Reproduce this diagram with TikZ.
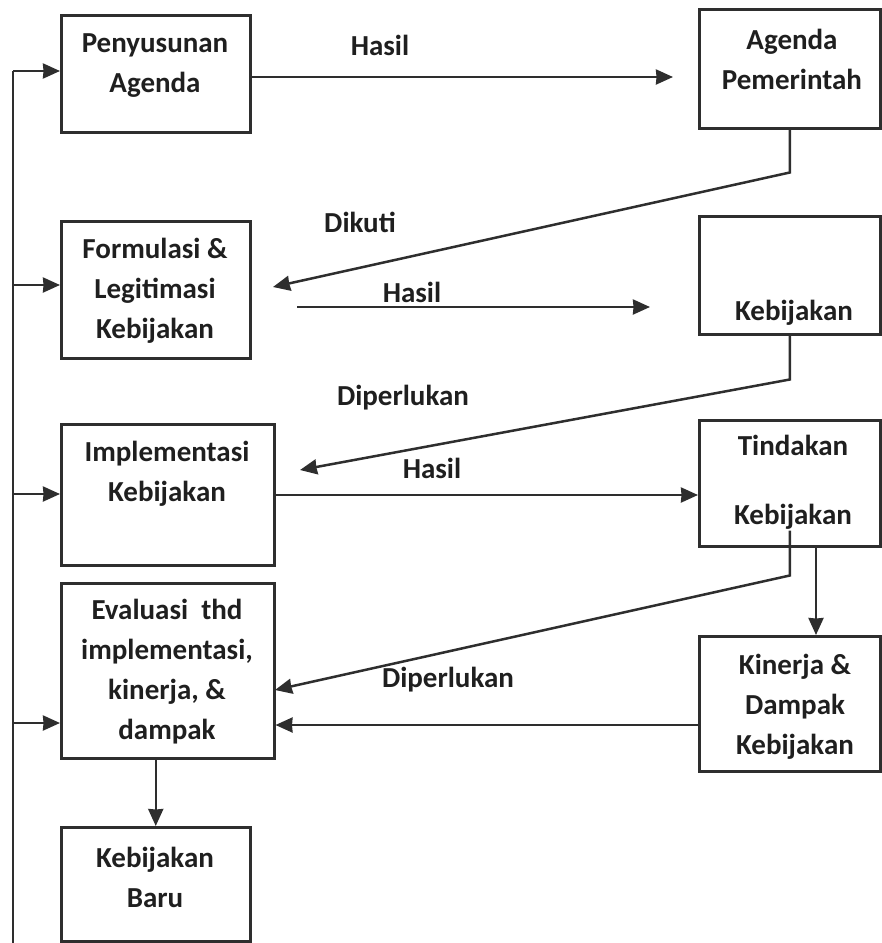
\documentclass[tikz,border=0pt]{standalone}
\usepackage{fontspec}
\setmainfont{Carlito}
\usetikzlibrary{arrows.meta}
\definecolor{darkline}{gray}{0.18}
\definecolor{darktext}{gray}{0.12}

\tikzset{
  box/.style={draw=darkline, line width=2.5pt, anchor=north west, inner sep=0pt},
  txt/.style={font=\bfseries\fontsize{29}{40}\selectfont, align=center, text=darktext},
  lbl/.style={font=\bfseries\fontsize{29}{32}\selectfont, text=darktext},
  conn/.style={draw=darkline, line width=2.5pt},
  arr/.style={conn, ->, >={Stealth[length=17pt, width=15pt, inset=0.5pt]}}
}

\begin{document}
\begin{tikzpicture}[x=1pt, y=-1pt]

  \useasboundingbox (0, 0) rectangle (882, 943);

  % boxes
  \node[box, minimum width=189, minimum height=117] (pa) at (60, 14) {};
  \node[box, minimum width=181, minimum height=119] (ap) at (698, 8) {};
  \node[box, minimum width=189, minimum height=137] (fl) at (60, 220) {};
  \node[box, minimum width=181, minimum height=118] (kb) at (698, 215) {};
  \node[box, minimum width=213, minimum height=141] (im) at (60, 423) {};
  \node[box, minimum width=181, minimum height=126] (tk) at (698, 419) {};
  \node[box, minimum width=213, minimum height=175] (ev) at (60, 582) {};
  \node[box, minimum width=181, minimum height=135] (kd) at (698, 635) {};
  \node[box, minimum width=189, minimum height=114] (baru) at (60, 826) {};

  \node[txt] (pa-t) at (155, 66) {Penyusunan\\Agenda};
  \node[txt] (ap-t) at (792, 59) {Agenda\\Pemerintah};
  \node[txt] (fl-t) at (155, 291) {Formulasi \&\\Legitimasi\\Kebijakan};
  \node[txt] (kb-t) at (794, 313) {Kebijakan};
  \node[txt] (im-t) at (167, 474) {Implementasi\\Kebijakan};
  \node[txt] (tk-t) at (793, 482) {Tindakan\\[29pt]Kebijakan};
  \node[txt] (ev-t) at (167, 672) {Evaluasi\ \ thd\\implementasi,\\kinerja, \&\\dampak};
  \node[txt] (kd-t) at (795, 707) {Kinerja \&\\Dampak\\Kebijakan};
  \node[txt] (baru-t) at (155, 877) {Kebijakan\\Baru};

  % labels
  \node[lbl] (hasil1) at (380, 45) {Hasil};
  \node[lbl] (dikuti) at (360, 222) {Dikuti};
  \node[lbl] (hasil2) at (412, 292) {Hasil};
  \node[lbl] (perlu1) at (403, 398) {Diperlukan};
  \node[lbl] (hasil3) at (432, 468) {Hasil};
  \node[lbl] (perlu2) at (448, 680) {Diperlukan};

  % free ends
  \coordinate (h1) at (673, 77);
  \coordinate (d1) at (273, 287);
  \coordinate (h2a) at (297, 307);
  \coordinate (h2b) at (650, 307);
  \coordinate (d2) at (300, 470);
  \coordinate (h3) at (0, 495);
  \coordinate (d3) at (275, 690);
  \coordinate (v1) at (816, 0);
  \coordinate (h4) at (0, 725);
  \coordinate (fbbot) at (13, 943);
  \coordinate (fbtop) at (13, 71);

  \draw[arr] (pa.east |- h1) -- (h1);
  \draw[arr] (ap.south) -- ++(0, 43) -- (d1);
  \draw[arr] (h2a) -- (h2b);
  \draw[arr] (kb.south) -- ++(0, 44) -- (d2);
  \draw[arr] (im.east |- h3) -- (tk.west |- h3);
  \draw[arr] (tk.south) ++(0, -17) -- ++(0, 45) -- (d3);
  \draw[arr] (tk.south -| v1) -- (kd.north -| v1);
  \draw[arr] (kd.west |- h4) -- (ev.east |- h4);
  \draw[arr] (ev.south -| baru.north) -- (baru.north);

  % feedback line
  \draw[conn] (fbbot) -- (fbtop);
  \foreach \b/\y in {pa/71, fl/285, im/494, ev/723} {
    \draw[arr] (13, \y) -- (\b.west |- 0, \y);
  }

\end{tikzpicture}
\end{document}
